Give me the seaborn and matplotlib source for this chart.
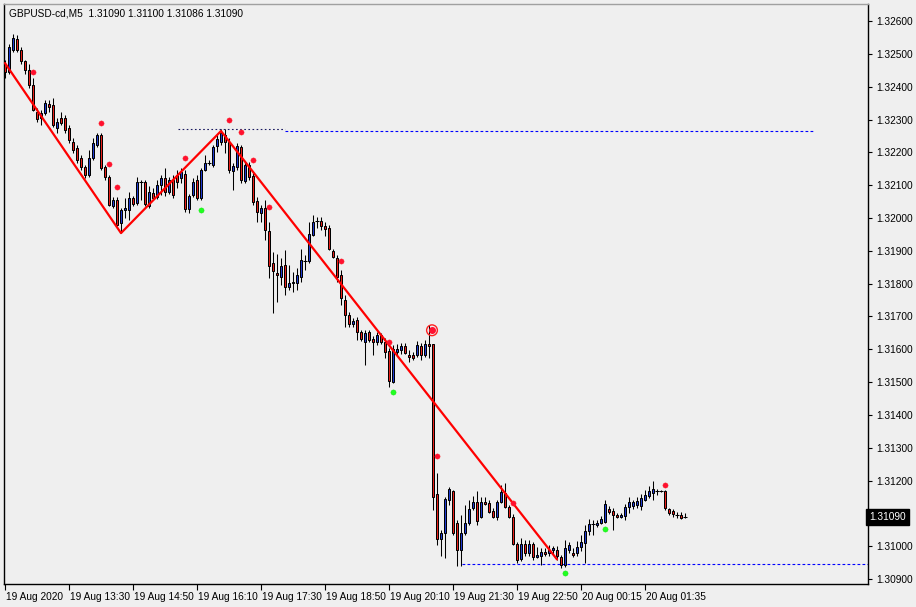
import numpy as np
import seaborn as sns
from matplotlib import pyplot as plt
from matplotlib import transforms

# GBPUSD M5 bars, 19 Aug 2020 12:10 onwards. Prices in points (1e-5).
open_pts = [
    132469, 132445, 132512, 132545, 132512, 132478, 132451, 132405, 132323, 132305,
    132320, 132347, 132344, 132274, 132305, 132305, 132274, 132231, 132213, 132183,
    132155, 132131, 132183, 132222, 132253, 132155, 132125, 132036, 132055, 131985,
    132024, 132024, 132061, 132045, 132109, 132109, 132036, 132076, 132064, 132100,
    132122, 132079, 132116, 132131, 132122, 132134, 132027, 132070, 132116, 132061,
    132146, 132167, 132161, 132219, 132231, 132253, 132231, 132143, 132155, 132216,
    132112, 132161, 132128, 132052, 132015, 132030, 131960, 131863, 131832, 131820,
    131857, 131790, 131802, 131802, 131820, 131869, 131869, 131948, 131991, 131991,
    131975, 131969, 131899, 131878, 131826, 131750, 131704, 131677, 131689, 131652,
    131622, 131652, 131631, 131622, 131643, 131622, 131594, 131500, 131591, 131598,
    131610, 131582, 131582, 131582, 131610, 131582, 131616, 131616, 131159, 131022,
    131040, 131141, 131168, 131070, 130988, 131040, 131070, 131116, 131134, 131089,
    131134, 131131, 131107, 131089, 131134, 131162, 131119, 131089, 131006, 130961,
    131006, 130979, 131006, 130967, 130970, 130982, 130979, 130988, 130988, 130967,
    130942, 130988, 130979, 130979, 130997, 131009, 131046, 131067, 131064, 131070,
    131073, 131113, 131107, 131095, 131089, 131092, 131119, 131122, 131125, 131122,
    131141, 131153, 131162, 131168, 131168, 131168, 131113, 131107, 131095, 131095,
    131090,
]
high_pts = [
    132481, 132530, 132560, 132557, 132521, 132481, 132469, 132426, 132335, 132329,
    132359, 132359, 132365, 132305, 132323, 132314, 132283, 132244, 132222, 132192,
    132161, 132207, 132244, 132259, 132259, 132161, 132131, 132064, 132064, 132030,
    132061, 132079, 132067, 132125, 132116, 132116, 132097, 132091, 132116, 132131,
    132152, 132125, 132131, 132146, 132152, 132146, 132073, 132122, 132131, 132152,
    132192, 132176, 132222, 132253, 132271, 132271, 132244, 132167, 132228, 132222,
    132170, 132170, 132137, 132064, 132039, 132055, 131988, 131896, 131890, 131878,
    131902, 131857, 131835, 131847, 131905, 131887, 131988, 132009, 132003, 132003,
    131988, 131978, 131905, 131887, 131841, 131765, 131713, 131695, 131698, 131658,
    131658, 131658, 131640, 131652, 131649, 131634, 131604, 131613, 131616, 131619,
    131619, 131598, 131591, 131625, 131619, 131628, 131674, 131616, 131223, 131049,
    131150, 131180, 131171, 131080, 131095, 131125, 131141, 131153, 131168, 131150,
    131150, 131141, 131116, 131141, 131186, 131192, 131125, 131098, 131013, 131025,
    131019, 131019, 131013, 130997, 130994, 130994, 131003, 131000, 131000, 130973,
    131019, 131013, 130994, 131016, 131034, 131064, 131083, 131080, 131080, 131092,
    131141, 131122, 131116, 131101, 131101, 131128, 131150, 131141, 131150, 131159,
    131171, 131183, 131198, 131174, 131171, 131171, 131116, 131113, 131104, 131104,
    131100,
]
low_pts = [
    132426, 132439, 132506, 132506, 132469, 132439, 132396, 132326, 132292, 132283,
    132314, 132323, 132277, 132259, 132283, 132259, 132228, 132198, 132167, 132146,
    132122, 132125, 132176, 132216, 132146, 132116, 132036, 132030, 131975, 131954,
    132000, 131994, 132036, 132039, 132055, 132036, 132030, 132055, 132058, 132070,
    132067, 132073, 132061, 132091, 132106, 132018, 132015, 132064, 132055, 132055,
    132143, 132161, 132155, 132201, 132222, 132198, 132137, 132085, 132146, 132106,
    132106, 132116, 132039, 131988, 131988, 131933, 131817, 131710, 131744, 131796,
    131765, 131780, 131774, 131780, 131805, 131841, 131863, 131945, 131969, 131963,
    131945, 131902, 131878, 131805, 131735, 131668, 131668, 131668, 131628, 131625,
    131552, 131622, 131582, 131613, 131616, 131573, 131485, 131497, 131582, 131585,
    131585, 131561, 131567, 131576, 131567, 131576, 131573, 131110, 131003, 130970,
    130964, 131125, 131034, 130939, 130939, 131034, 131064, 131110, 131064, 131086,
    131125, 131101, 131086, 131080, 131131, 131116, 131086, 131003, 130949, 130955,
    130970, 130970, 130958, 130964, 130942, 130970, 130970, 130976, 130958, 130933,
    130936, 130979, 130967, 130970, 130985, 130949, 131034, 131034, 131058, 131067,
    131070, 131098, 131049, 131086, 131086, 131080, 131101, 131113, 131116, 131110,
    131137, 131147, 131141, 131156, 131165, 131110, 131095, 131089, 131086, 131083,
    131086,
]
close_pts = [
    132445, 132521, 132548, 132512, 132478, 132451, 132405, 132329, 132301, 132320,
    132350, 132338, 132283, 132292, 132289, 132268, 132237, 132207, 132176, 132155,
    132131, 132183, 132228, 132253, 132152, 132125, 132039, 132055, 131978, 132024,
    132030, 132061, 132042, 132109, 132109, 132042, 132079, 132061, 132100, 132122,
    132079, 132116, 132070, 132109, 132140, 132027, 132067, 132109, 132061, 132146,
    132167, 132167, 132216, 132240, 132259, 132231, 132146, 132158, 132219, 132116,
    132161, 132125, 132049, 132018, 132030, 131963, 131854, 131838, 131826, 131854,
    131790, 131802, 131805, 131826, 131872, 131869, 131951, 131988, 131991, 131975,
    131966, 131905, 131881, 131820, 131756, 131704, 131677, 131686, 131652, 131631,
    131649, 131628, 131622, 131643, 131622, 131591, 131503, 131601, 131601, 131610,
    131588, 131576, 131573, 131613, 131582, 131616, 131610, 131150, 131022, 131040,
    131144, 131174, 131040, 130988, 131040, 131070, 131113, 131134, 131077, 131134,
    131128, 131104, 131089, 131134, 131165, 131119, 131089, 131006, 130958, 131006,
    130979, 131006, 130967, 130973, 130982, 130976, 130988, 130994, 130970, 130942,
    130994, 131003, 130973, 130997, 131013, 131046, 131067, 131067, 131070, 131083,
    131128, 131104, 131095, 131089, 131095, 131119, 131134, 131134, 131137, 131147,
    131156, 131168, 131174, 131168, 131168, 131116, 131101, 131098, 131095, 131086,
    131090,
]

# ZigZag turning points (bar index, price)
zz_bars = [0, 29, 54, 138]
zz_prices = [1.32472, 1.31954, 1.32265, 1.30960]

# fractal / signal dots
up_bars = [7, 24, 26, 28, 45, 56, 59, 62, 66, 84, 96, 108, 127, 165]
up_prices = [1.32445, 1.32289, 1.32164, 1.32094, 1.32183, 1.32298, 1.32262,
             1.32176, 1.32033, 1.31869, 1.31622, 1.31275, 1.31131, 1.31186]
dn_bars = [49, 97, 140, 150]
dn_prices = [1.32024, 1.31470, 1.30918, 1.31052]
alert_bar = 106.75
alert_price = 1.31658

# horizontal levels: (start bar, end bar, price)
res_dotted = (43.25, 70.0, 1.32271)
res_dashed = (70.0, 202.5, 1.32265)
sup_dashed = (114.25, 215.75, 1.30946)

tick_bars = [0, 16, 32, 48, 64, 80, 96, 112, 128, 144, 160]
tick_labels = ["19 Aug 2020", "19 Aug 13:30", "19 Aug 14:50", "19 Aug 16:10",
               "19 Aug 17:30", "19 Aug 18:50", "19 Aug 20:10", "19 Aug 21:30",
               "19 Aug 22:50", "20 Aug 00:15", "20 Aug 01:35"]
price_ticks = [1.309 + 0.001 * k for k in range(18)]

title = "GBPUSD-cd,M5  1.31090 1.31100 1.31086 1.31090"
last_price = 1.31090

BG = "#efefef"
UP = "#1f3bd0"
DN = "#e8201a"

sns.set_style("white", {"axes.facecolor": BG, "figure.facecolor": BG})
plt.rcParams["font.family"] = ["Liberation Sans", "DejaVu Sans"]

o = np.array(open_pts) / 1e5
h = np.array(high_pts) / 1e5
lo = np.array(low_pts) / 1e5
c = np.array(close_pts) / 1e5
h = np.maximum(h, np.maximum(o, c))
lo = np.minimum(lo, np.minimum(o, c))
idx = np.arange(len(o))

W, H = 916, 607
fig = plt.figure(figsize=(W / 100, H / 100), dpi=100)
ax = fig.add_axes([4 / W, 23 / H, 864 / W, 580 / H])
ax.set_facecolor(BG)

# wicks
ax.vlines(idx, lo, h, color="black", lw=0.75, zorder=2)

# bodies (thin, black outlined like the terminal draws them)
up = c > o
dn = c < o
flat = c == o
ax.bar(idx[up], (c - o)[up], bottom=o[up], width=0.5, color=UP,
       edgecolor="black", linewidth=0.72, zorder=3)
ax.bar(idx[dn], (o - c)[dn], bottom=c[dn], width=0.5, color=DN,
       edgecolor="black", linewidth=0.72, zorder=3)
ax.hlines(o[flat], idx[flat] - 0.4, idx[flat] + 0.4, color="black",
          lw=0.75, zorder=3)

# zigzag
sns.lineplot(x=zz_bars, y=zz_prices, sort=False, color="#ff0000", lw=1.6,
             ax=ax, zorder=4)

# levels
ax.hlines(res_dotted[2], res_dotted[0], res_dotted[1], color="#1a1a60",
          lw=0.8, linestyles=(0, (1.5, 2.2)), zorder=1)
ax.hlines(res_dashed[2], res_dashed[0], res_dashed[1], color="#0000ff",
          lw=0.8, linestyles=(0, (2.5, 2.0)), zorder=1)
ax.hlines(sup_dashed[2], sup_dashed[0], sup_dashed[1], color="#0000ff",
          lw=0.8, linestyles=(0, (2.5, 2.0)), zorder=1)

# dots
sns.scatterplot(x=up_bars, y=up_prices, color="#ff1030", s=14,
                edgecolor="#ff2020", linewidth=0.3, ax=ax, zorder=5)
sns.scatterplot(x=dn_bars, y=dn_prices, color="#20ff20", s=14,
                edgecolor="#10e010", linewidth=0.3, ax=ax, zorder=5)
ax.scatter([alert_bar], [alert_price], s=60, facecolor="none",
           edgecolor="#ff2020", linewidth=1.0, zorder=5)
ax.scatter([alert_bar], [alert_price], s=16, color="#ff1030", zorder=6)

ax.set_xlim(-0.25, 215.75)
ax.set_ylim(1.30885, 1.32652)

# the 1.31100 label sits under the live price tag in the terminal
ax.yaxis.tick_right()
ax.set_yticks(price_ticks)
ax.set_yticklabels(["" if abs(p - 1.311) < 1e-9 else f"{p:.5f}"
                    for p in price_ticks])
ax.tick_params(axis="y", direction="out", length=3, width=0.8, pad=3,
               labelsize=7.3, colors="black", right=True, left=False)

ax.set_xticks(tick_bars)
ax.set_xticklabels(tick_labels)
ax.tick_params(axis="x", direction="out", length=4, width=0.8, pad=2,
               labelsize=7.3, colors="black", bottom=True)
offset = transforms.ScaledTranslation(1.5 / 100, 0, fig.dpi_scale_trans)
for lab in ax.get_xticklabels():
    lab.set_horizontalalignment("left")
    lab.set_transform(lab.get_transform() + offset)

for side in ["left", "right", "bottom"]:
    ax.spines[side].set_color("black")
    ax.spines[side].set_linewidth(1.0)
ax.spines["top"].set_color("#a0a0a0")
ax.spines["top"].set_linewidth(1.0)
ax.set_xlabel("")
ax.set_ylabel("")
ax.grid(False)

# current price tag
ax.annotate(f"{last_price:.5f}", xy=(1.0, last_price),
            xycoords=transforms.blended_transform_factory(ax.transAxes, ax.transData),
            xytext=(1, 0), textcoords="offset points", ha="left", va="center",
            fontsize=7.3, color="white", zorder=10, annotation_clip=False,
            bbox=dict(boxstyle="square,pad=0.3", fc="black", ec="black"))

fig.text(9 / W, 1 - 13 / H, title, ha="left", va="center", fontsize=7.3,
         color="black")

fig.savefig("out.png", dpi=100, facecolor=BG)
